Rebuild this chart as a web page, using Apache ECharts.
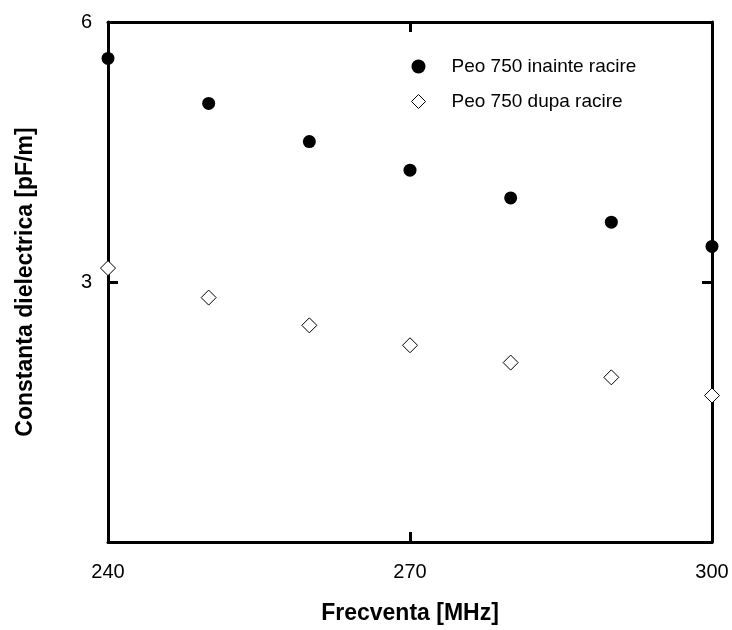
<!DOCTYPE html>
<html>
<head>
<meta charset="utf-8">
<script src="https://cdn.jsdelivr.net/npm/echarts@6/dist/echarts.min.js"></script>
<style>
  html, body { margin: 0; padding: 0; background: #fff; }
  #chart { width: 732px; height: 630px; }
</style>
</head>
<body>
<div id="chart"></div>
<script>
// Frequency (MHz) and dielectric constant readings
const frequencies = [240, 250, 260, 270, 280, 290, 300];
const beforeCooling = [5.58, 5.06, 4.62, 4.29, 3.97, 3.69, 3.41];
const afterCooling = [3.16, 2.82, 2.50, 2.27, 2.07, 1.90, 1.69];
const seriesNames = ['Peo 750 inainte racire', 'Peo 750 dupa racire'];

const pairs = (xs, ys) => xs.map((x, i) => [x, ys[i]]);
const font = 'Liberation Sans, Arial, sans-serif';

const frameLine = { show: true, onZero: false, lineStyle: { color: '#000', width: 3 } };
const innerTick = { show: true, inside: true, length: 10, lineStyle: { color: '#000', width: 3 } };

const chart = echarts.init(document.getElementById('chart'));
chart.setOption({
  animation: false,
  backgroundColor: '#fff',
  grid: { left: 108, right: 20, top: 22, bottom: 80 },
  legend: {
    orient: 'vertical',
    left: 406,
    top: 52,
    itemWidth: 14,
    itemHeight: 14,
    itemGap: 16,
    textStyle: { fontFamily: font, fontSize: 19, color: '#000', padding: [0, 0, 0, 21] },
    data: [
      { name: seriesNames[0], icon: 'circle', itemStyle: { borderWidth: 0 } },
      { name: seriesNames[1], icon: 'diamond', itemStyle: { borderWidth: 1 } }
    ]
  },
  xAxis: [
    {
      type: 'value', min: 240, max: 300, interval: 30, position: 'bottom',
      name: 'Frecventa [MHz]', nameLocation: 'middle', nameGap: 60,
      nameTextStyle: { fontFamily: font, fontSize: 23, fontWeight: 'bold', color: '#000' },
      axisLine: frameLine, axisTick: innerTick,
      axisLabel: { fontFamily: font, fontSize: 20, color: '#000', margin: 20 },
      splitLine: { show: false }
    },
    {
      type: 'value', min: 240, max: 300, interval: 30, position: 'top',
      axisLine: frameLine, axisTick: innerTick, axisLabel: { show: false },
      splitLine: { show: false }
    }
  ],
  yAxis: [
    {
      type: 'value', min: 0, max: 6, interval: 3, position: 'left',
      name: 'Constanta dielectrica [pF/m]', nameLocation: 'middle', nameGap: 71,
      nameTextStyle: { fontFamily: font, fontSize: 23, fontWeight: 'bold', color: '#000' },
      axisLine: frameLine, axisTick: innerTick,
      axisLabel: {
        fontFamily: font, fontSize: 20, color: '#000', margin: 16,
        formatter: v => (v === 0 ? '' : String(v))
      },
      splitLine: { show: false }
    },
    {
      type: 'value', min: 0, max: 6, interval: 3, position: 'right',
      axisLine: frameLine, axisTick: innerTick, axisLabel: { show: false },
      splitLine: { show: false }
    }
  ],
  series: [
    {
      name: seriesNames[0], type: 'scatter', clip: false, z: 5,
      symbol: 'circle', symbolSize: 13,
      itemStyle: { color: '#000', borderColor: '#000', borderWidth: 0, opacity: 1 },
      data: pairs(frequencies, beforeCooling)
    },
    {
      name: seriesNames[1], type: 'scatter', clip: false, z: 5,
      symbol: 'diamond', symbolSize: [15, 15],
      itemStyle: { color: '#fff', borderColor: '#000', borderWidth: 1, opacity: 1 },
      data: pairs(frequencies, afterCooling)
    }
  ]
});
</script>
</body>
</html>
